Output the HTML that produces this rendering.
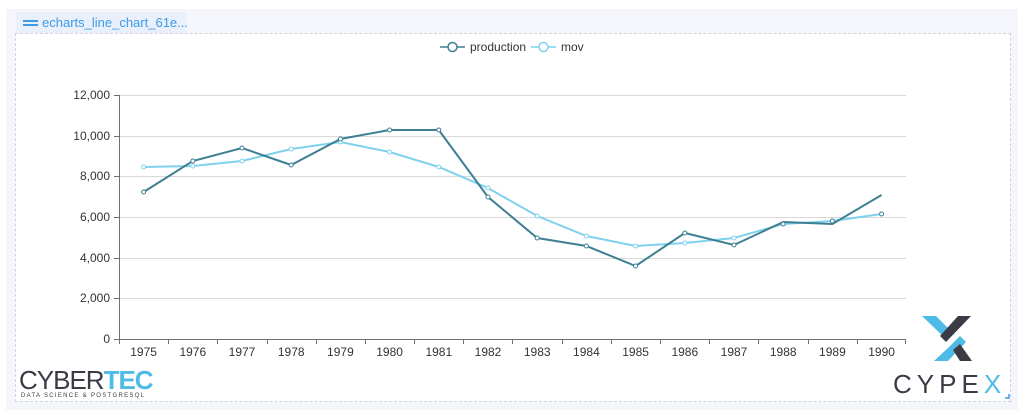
<!DOCTYPE html>
<html><head><style>
body{margin:0;width:1024px;height:417px;background:#fff;font-family:"Liberation Sans",sans-serif;position:relative;overflow:hidden}
.outer{position:absolute;left:6px;top:9px;width:1012px;height:401px;background:#f4f6fc}
.tab{position:absolute;left:16px;top:12px;width:170px;height:22px;background:#e9f0fb;border-radius:4px 4px 0 0;color:#3d9be9;font-size:13px;line-height:22px}
.panel{position:absolute;left:15px;top:33px;width:994px;height:367px;background:#fff;border:1px dashed #cfd3da}
</style></head><body>
<div class="outer"></div>
<div class="tab"><span style="position:absolute;left:7px;top:8px;width:15px;height:2px;background:#3d9be9"></span><span style="position:absolute;left:7px;top:12px;width:15px;height:2px;background:#3d9be9"></span><span style="position:absolute;left:26px">echarts_line_chart_61e...</span></div>
<div class="panel"></div>
<svg width="1024" height="417" style="position:absolute;left:0;top:0" font-family="Liberation Sans,sans-serif">
<g stroke="#d9d9d9" stroke-width="1">
<line x1="119" x2="906" y1="95.5" y2="95.5"/><line x1="119" x2="906" y1="136.5" y2="136.5"/><line x1="119" x2="906" y1="176.5" y2="176.5"/><line x1="119" x2="906" y1="217.5" y2="217.5"/><line x1="119" x2="906" y1="258.5" y2="258.5"/><line x1="119" x2="906" y1="298.5" y2="298.5"/>
</g>
<g stroke="#6e7079" fill="none">
<line x1="119.5" x2="119.5" y1="95" y2="339"/><line x1="119" x2="906" y1="339.5" y2="339.5"/>
<path d="M114 95.5h5M114 136.5h5M114 176.5h5M114 217.5h5M114 258.5h5M114 298.5h5M114 339.5h5"/>
<path d="M119.5 339v5M168.5 339v5M217.5 339v5M267.5 339v5M316.5 339v5M365.5 339v5M414.5 339v5M463.5 339v5M512.5 339v5M562.5 339v5M611.5 339v5M660.5 339v5M709.5 339v5M758.5 339v5M808.5 339v5M857.5 339v5M905.5 339v5"/>
</g>
<g font-size="12" fill="#333" text-anchor="end">
<text x="110" y="99">12,000</text><text x="110" y="140">10,000</text><text x="110" y="180">8,000</text><text x="110" y="221">6,000</text><text x="110" y="262">4,000</text><text x="110" y="302">2,000</text><text x="110" y="343">0</text>
</g>
<g font-size="12" fill="#333" text-anchor="middle">
<text x="143.6" y="356">1975</text><text x="192.8" y="356">1976</text><text x="242" y="356">1977</text><text x="291.2" y="356">1978</text><text x="340.4" y="356">1979</text><text x="389.6" y="356">1980</text><text x="438.8" y="356">1981</text><text x="488" y="356">1982</text><text x="537.2" y="356">1983</text><text x="586.4" y="356">1984</text><text x="635.6" y="356">1985</text><text x="684.8" y="356">1986</text><text x="734" y="356">1987</text><text x="783.2" y="356">1988</text><text x="832.4" y="356">1989</text><text x="881.6" y="356">1990</text>
</g>
<polyline fill="none" stroke="#7fd1ee" stroke-width="2" points="143.6,167 192.8,166 242,161 291.2,149 340.4,142 389.6,152 438.8,167 488,188 537.2,216 586.4,236 635.6,246 684.8,243 734,238 783.2,224 832.4,221 881.6,214"/>
<g fill="#fff" stroke="#7fd1ee"><circle cx="143.6" cy="167" r="2"/><circle cx="192.8" cy="166" r="2"/><circle cx="242" cy="161" r="2"/><circle cx="291.2" cy="149" r="2"/><circle cx="340.4" cy="142" r="2"/><circle cx="389.6" cy="152" r="2"/><circle cx="438.8" cy="167" r="2"/><circle cx="488" cy="188" r="2"/><circle cx="537.2" cy="216" r="2"/><circle cx="586.4" cy="236" r="2"/><circle cx="635.6" cy="246" r="2"/><circle cx="684.8" cy="243" r="2"/><circle cx="734" cy="238" r="2"/><circle cx="783.2" cy="224" r="2"/><circle cx="832.4" cy="221" r="2"/><circle cx="881.6" cy="214" r="2"/></g>
<polyline fill="none" stroke="#3f7f93" stroke-width="2" points="143.6,192 192.8,161 242,148 291.2,165 340.4,139 389.6,130 438.8,130 488,197 537.2,238 586.4,246 635.6,266 684.8,233 734,245 783.2,222 832.4,224 881.6,195"/>
<g fill="#fff" stroke="#3f7f93"><circle cx="143.6" cy="192" r="2"/><circle cx="192.8" cy="161" r="2"/><circle cx="242" cy="148" r="2"/><circle cx="291.2" cy="165" r="2"/><circle cx="340.4" cy="139" r="2"/><circle cx="389.6" cy="130" r="2"/><circle cx="438.8" cy="130" r="2"/><circle cx="488" cy="197" r="2"/><circle cx="537.2" cy="238" r="2"/><circle cx="586.4" cy="246" r="2"/><circle cx="635.6" cy="266" r="2"/><circle cx="684.8" cy="233" r="2"/><circle cx="734" cy="245" r="2"/><circle cx="783.2" cy="224" r="2"/><circle cx="832.4" cy="221" r="2"/><circle cx="881.6" cy="214" r="2"/></g>
<g stroke-width="1.5" fill="#fff">
<line x1="440" x2="465" y1="47" y2="47" stroke="#3f7f93"/><circle cx="452.5" cy="47" r="4.5" stroke="#3f7f93"/>
<line x1="531" x2="556" y1="47" y2="47" stroke="#7fd1ee"/><circle cx="543.5" cy="47" r="4.5" stroke="#7fd1ee"/>
</g>
<text x="470" y="51" font-size="12" fill="#333">production</text>
<text x="561" y="51" font-size="12" fill="#333">mov</text>
<text x="19" y="389" font-size="26" fill="#3b3b45" letter-spacing="-1">CYBER<tspan fill="#4dbbe6" font-weight="bold">TEC</tspan></text>
<text x="21" y="397" font-size="6" fill="#3b3b45" letter-spacing="1.3">DATA SCIENCE &amp; POSTGRESQL</text>
<g>
<polygon points="922,316 936,316 954,334 947,340" fill="#4dbbe6"/>
<polygon points="958,316 971,316 946,342 940,336" fill="#3b3b45"/>
<polygon points="960,336 948,348 934,361 948,361 966,342" fill="#4dbbe6"/>
<polygon points="953,350 960,344 972,361 960,361" fill="#3b3b45"/>
</g>
<text x="893" y="393" font-size="26" fill="#3b3b45" letter-spacing="5">CYPE<tspan fill="#4dbbe6">X</tspan></text>
<path d="M1005 398h4v-4" stroke="#3d9be9" stroke-width="1.5" fill="none"/>
</svg>
</body></html>
